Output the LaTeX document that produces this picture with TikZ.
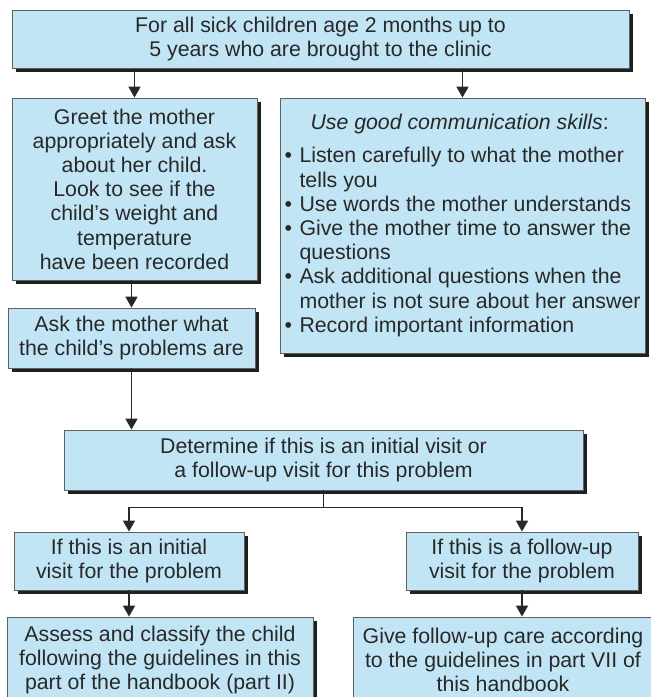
\documentclass[tikz,border=0pt]{standalone}
\usepackage{fontspec}
\setmainfont{Liberation Sans}
\usetikzlibrary{arrows.meta,shadows,calc}
\definecolor{boxfill}{RGB}{194,229,246}
\definecolor{boxline}{RGB}{95,95,95}
\definecolor{txt}{RGB}{40,40,40}
\tikzset{
  box/.style={draw=boxline, line width=0.8pt, fill=boxfill, text=txt, align=center,
    inner sep=0pt, font=\fontsize{21.3}{24.2}\selectfont,
    drop shadow={shadow xshift=4pt, shadow yshift=-4pt, fill=black!88, opacity=1}},
  arr/.style={draw=txt, line width=1.6pt, -{Triangle[width=12pt,length=11pt]}},
  conn/.style={draw=txt, line width=1.6pt}
}
\begin{document}
\begin{tikzpicture}[x=1pt,y=-1pt]
\fill[white] (0,0) rectangle (651,697);
\useasboundingbox (0,0) rectangle (651,697);

\node[box, minimum width=617pt, minimum height=58pt] (top) at (320.5,39)
  {For all sick children age 2 months up to\\5 years who are brought to the clinic};

\node[box, minimum width=245pt, minimum height=182pt] (greet) at (134.5,189)
  {Greet the mother\\appropriately and ask\\about her child.\\Look to see if the\\child’s weight and\\temperature\\have been recorded};

\node[box, align=left, minimum width=365pt, minimum height=255pt] (comms) at (462.5,225.5)
  {\hspace*{26pt}\textit{Use good communication skills}:\\[9pt]
   \makebox[15pt][l]{•}Listen carefully to what the mother\\
   \hspace*{15pt}tells you\\
   \makebox[15pt][l]{•}Use words the mother understands\\
   \makebox[15pt][l]{•}Give the mother time to answer the\\
   \hspace*{15pt}questions\\
   \makebox[15pt][l]{•}Ask additional questions when the\\
   \hspace*{15pt}mother is not sure about her answer\\
   \makebox[15pt][l]{•}Record important information};

\node[box, minimum width=247pt, minimum height=60pt] (ask) at (131.5,338)
  {Ask the mother what\\the child’s problems are};

\node[box, minimum width=519pt, minimum height=60pt] (determine) at (323.5,460)
  {Determine if this is an initial visit or\\a follow-up visit for this problem};

\node[box, minimum width=230pt, minimum height=58pt] (ifL) at (129,561)
  {If this is an initial\\visit for the problem};

\node[box, minimum width=232pt, minimum height=58pt] (ifR) at (522,561)
  {If this is a follow-up\\visit for the problem};

\node[box, minimum width=306pt, minimum height=86pt] (assess) at (160,660)
  {Assess and classify the child\\following the guidelines in this\\part of the handbook (part II)};

\node[box, minimum width=300pt, minimum height=86pt] (give) at (503,660)
  {Give follow-up care according\\to the guidelines in part VII of\\this handbook};

% connectors
\draw[arr] (greet.north |- top.south) -- (greet.north);
\draw[arr] (comms.north |- top.south) -- (comms.north);
\draw[arr] (ask.north |- greet.south) -- (ask.north);
\draw[arr] (ask.south) -- (ask.south |- determine.north);
\coordinate (split) at ($(determine.south)+(0,17)$);
\draw[conn] (determine.south) -- (split);
\draw[arr] (split) -| (ifL.north);
\draw[arr] (split) -| (ifR.north);
\draw[arr] (ifL.south) -- (ifL.south |- assess.north);
\draw[arr] (ifR.south) -- (ifR.south |- give.north);
\end{tikzpicture}
\end{document}
